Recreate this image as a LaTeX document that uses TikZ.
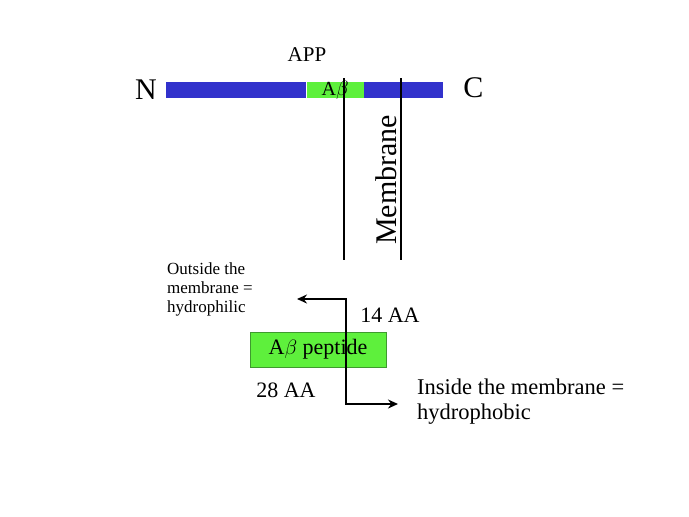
\documentclass[tikz,border=0pt]{standalone}
\usepackage{fontspec}
\setmainfont{Liberation Serif}
\usetikzlibrary{arrows.meta,positioning}
\definecolor{appblue}{HTML}{3232CC}
\definecolor{appgreen}{HTML}{5EF03C}
\definecolor{boxedge}{HTML}{3E9A2E}

\begin{document}
\begin{tikzpicture}[
  x=1pt, y=-1pt,
  seg/.style={rectangle, inner sep=0pt, minimum height=16pt},
  big/.style={font=\fontsize{30}{32}\selectfont, inner sep=0pt},
  lbl/.style={font=\fontsize{22}{25}\selectfont, inner sep=0pt},
  note/.style={font=\fontsize{17}{19.5}\selectfont, align=left, inner sep=0pt},
  wall/.style={line width=1.8pt},
  arr/.style={{Stealth[length=10pt,width=9pt]}-{Stealth[length=10pt,width=9pt]}, line width=1.8pt}
]
\useasboundingbox (0,0) rectangle (689,517);

% APP chain
\node[seg, fill=appblue, minimum width=140pt, anchor=west] (nterm) at (166,90) {};
\node[seg, fill=appgreen, minimum width=57pt, right=0pt of nterm] (abeta) {};
\node[seg, fill=appblue, minimum width=79pt, right=0pt of abeta] (cterm) {};
\node[lbl, font=\fontsize{20}{22}\selectfont] (abtxt) at (abeta) {A$\beta$};
\node[lbl, font=\fontsize{21}{22}\selectfont] (app) at (307,55) {APP};
\node[big, left=9pt of nterm] (nlab) {N};
\node[big, right=20pt of cterm, yshift=2pt] (clab) {C};

% membrane
\draw[wall] (344,78) -- (344,260);
\draw[wall] (401,78) -- (401,260);
\node[big, rotate=90] (memb) at (386,180) {Membrane};

% peptide
\node[lbl, draw=boxedge, fill=appgreen, minimum width=136pt, minimum height=35pt] (pep) at (318,349.5) {A$\beta$ peptide};
\coordinate (outtip) at (297,299);
\coordinate (bendup) at (346,299);
\coordinate (benddn) at (346,404);
\coordinate (intip) at (398,404);
\draw[arr] (outtip) -- (bendup) -- (benddn) -- (intip);

\node[lbl] (aa14) at (390,315) {14 AA};
\node[lbl] (aa28) at (286,390) {28 AA};
\node[note, anchor=north west] (outside) at (167,262) {Outside the\\membrane =\\hydrophilic};
\node[lbl, align=left, anchor=north west, font=\fontsize{22.5}{25}\selectfont] (inside) at (417,379) {Inside the membrane =\\hydrophobic};
\end{tikzpicture}
\end{document}
